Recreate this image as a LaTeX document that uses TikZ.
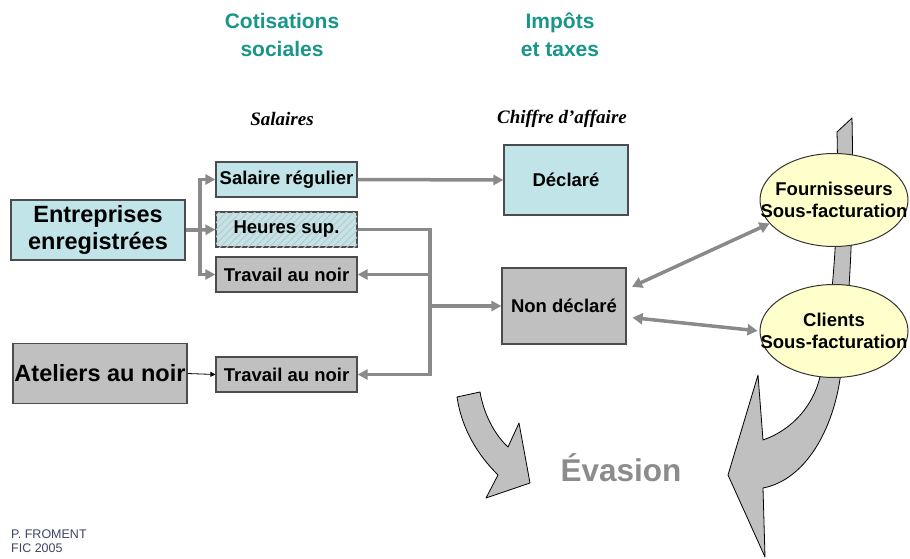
\documentclass[tikz,border=0pt]{standalone}
\usepackage{fontspec}
\setmainfont{Liberation Sans}
\newfontfamily\titrefont{Liberation Serif}
\usetikzlibrary{arrows.meta,shapes.geometric,patterns.meta}
\definecolor{bleuclair}{RGB}{192,228,232}
\definecolor{grisboite}{RGB}{192,192,192}
\definecolor{grisfleche}{RGB}{138,138,138}
\definecolor{jaunepale}{RGB}{255,255,204}
\definecolor{turquoise}{RGB}{24,150,138}
\definecolor{grisevasion}{RGB}{140,140,140}
\definecolor{signature}{RGB}{60,70,100}
\begin{document}
\begin{tikzpicture}[x=1pt,y=-1pt,
  boite/.style={draw=black!70,line width=1.2pt,inner sep=0pt,align=center,font=\bfseries\fontsize{18.5}{21}\selectfont},
  bleue/.style={boite,fill=bleuclair},
  grise/.style={boite,fill=grisboite},
  hachee/.style={bleue,postaction={pattern={Lines[angle=45,distance=5pt,line width=1.1pt]},pattern color=gray!45}},
  petite/.style={minimum width=141pt,minimum height=35pt},
  grande/.style={minimum width=174pt,minimum height=60pt,font=\bfseries\fontsize{23.5}{27}\selectfont},
  ovale/.style={ellipse,draw=black!80,line width=1pt,fill=jaunepale,minimum width=148pt,minimum height=93pt,inner sep=0pt},
  texteovale/.style={align=center,inner sep=0pt,font=\bfseries\fontsize{18.5}{21.5}\selectfont},
  titre/.style={text=turquoise,align=center,font=\bfseries\fontsize{21}{28}\selectfont},
  soustitre/.style={font=\titrefont\bfseries\itshape\fontsize{19}{21}\selectfont},
  conn/.style={draw=grisfleche,line width=3.5pt},
  fl/.style={conn,-{Triangle[length=10pt,width=10pt]}},
  dfl/.style={conn,{Triangle[length=10pt,width=11pt]}-{Triangle[length=10pt,width=11pt]}},
  grosse/.style={draw=black,line width=0.8pt,fill=grisboite,line join=round}]
  \useasboundingbox (0,0) rectangle (910,559);
  % fleches courbes
  \draw[grosse] (457,397) -- (480,392) .. controls (484,415) and (495,435) .. (508,447)
    -- (519,423) -- (530,483) -- (486,498) -- (498,475) .. controls (478,455) and (462,430) .. cycle;
  \draw[grosse] (837,132) -- (852,118) .. controls (855,250) and (846,330) .. (841,372)
    .. controls (834,430) and (805,480) .. (763,488) -- (765,557) -- (728,475) -- (758,375)
    -- (763,440) .. controls (792,430) and (815,405) .. (821,372) .. controls (828,330) and (840,250) .. cycle;
  % titres
  \node[titre] (cotis) at (282,35) {Cotisations\\sociales};
  \node[titre] (impots) at (560,35) {Impôts\\et taxes};
  \node[soustitre] (salaires) at (282,119) {Salaires};
  \node[soustitre] (chiffre) at (562,119) {Chiffre d’affaire};
  % boites
  \node[bleue,grande] (ent) at (98,230) {Entreprises\\enregistrées};
  \node[grise,grande] (atel) at (100,373.5) {Ateliers au noir};
  \node[bleue,petite] (sal) at (286.5,179.5) {Salaire régulier};
  \node[hachee,petite] (heu) at (286.5,229.5) {Heures sup.};
  \node[grise,petite] (trav1) at (286.5,274.5) {Travail au noir};
  \node[grise,petite] (trav2) at (286.5,374.5) {Travail au noir};
  \node[bleue,minimum width=124pt,minimum height=70pt] (decl) at (566,180) {Déclaré};
  \node[grise,minimum width=124pt,minimum height=76pt] (nondecl) at (564,306) {Non déclaré};
  \node[ovale] (four) at (834,200) {};
  \node[texteovale] (fourtxt) at (four) {Fournisseurs\\Sous-facturation};
  \node[ovale] (cli) at (834,331) {};
  \node[texteovale] (clitxt) at (cli) {Clients\\Sous-facturation};
  % liaisons
  \coordinate (busA) at (200,230);
  \coordinate (busB) at (430,306);
  \draw[conn] (ent.east) -- (busA);
  \draw[fl] (busA) |- (sal.west);
  \draw[fl] (busA) -- (heu.west);
  \draw[fl] (busA) |- (trav1.west);
  \draw[fl] (sal.east) -- (decl.west);
  \draw[fl] (heu.east) -| (busB) |- (trav2.east);
  \draw[fl] (busB |- trav1.east) -- (trav1.east);
  \draw[fl] (busB) -- (nondecl.west);
  \draw[black,line width=0.8pt,-{Triangle[length=5pt,width=5pt]}] (atel.east) -- (trav2.west);
  \draw[dfl,shorten <=6pt] (nondecl.15) -- (four.200);
  \draw[dfl,shorten <=6pt,shorten >=2pt] (nondecl.-10) -- (cli.west);
  % bas
  \node[text=grisevasion,font=\bfseries\fontsize{31.5}{34}\selectfont] (evasion) at (621,468) {Évasion};
  \node[anchor=north west,inner sep=0pt,align=left,text=signature,font=\fontsize{12.5}{13.5}\selectfont] (auteur) at (11,530) {P. FROMENT\\FIC 2005};
\end{tikzpicture}
\end{document}
